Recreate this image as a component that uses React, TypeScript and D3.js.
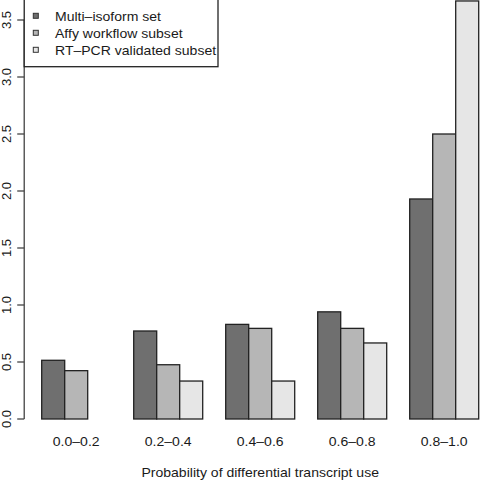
import React from "react";
import * as d3 from "d3";

const categories = ["0.0\u20130.2", "0.2\u20130.4", "0.4\u20130.6", "0.6\u20130.8", "0.8\u20131.0"];
const seriesNames = ["Multi\u2013isoform set", "Affy workflow subset", "RT\u2013PCR validated subset"];
const multiIsoform = [0.515, 0.772, 0.83, 0.94, 1.93];
const affyWorkflow = [0.424, 0.476, 0.795, 0.795, 2.5];
const rtpcrValidated = [0, 0.333, 0.333, 0.667, 3.667];
const yTicks = [0, 0.5, 1, 1.5, 2, 2.5, 3, 3.5];
const xTitle = "Probability of differential transcript use";

const fills = ["#6f6f6f", "#b6b6b6", "#e6e6e6"];
const FONT = "'Liberation Sans', Arial, Helvetica, sans-serif";
const FS = 13;
const SX = 1.08;

export default function App() {
  const W = 480, H = 481;
  const series = [multiIsoform, affyWorkflow, rtpcrValidated];
  // R barplot units: bars of width 1, one-unit gap before each group
  const unit = 23;
  const x0 = 18.7;
  const xs = d3.scaleLinear().domain([0, 1]).range([x0, x0 + unit]);
  const y = d3.scaleLinear().domain([0, 3.5]).range([419, 20]);
  const axisX = xs(0.24);

  const bars: { x: number; w: number; y0: number; y1: number; fill: string; key: string }[] = [];
  categories.forEach((c, gi) => {
    series.forEach((s, si) => {
      const left = 1 + gi * 4 + si;
      bars.push({
        key: `${gi}-${si}`,
        x: xs(left),
        w: xs(left + 1) - xs(left),
        y0: y(0),
        y1: y(s[gi]),
        fill: fills[si],
      });
    });
  });

  const hText = (x: number, yy: number, txt: string, anchor: string, key?: string) => (
    <text
      key={key}
      transform={`translate(${x},${yy}) scale(${SX},1)`}
      textAnchor={anchor}
      fontSize={FS}
      fontFamily={FONT}
      fill="#1a1a1a"
    >
      {txt}
    </text>
  );

  return (
    <svg width={W} height={H} style={{ position: "absolute", left: 0, top: 0, background: "#fff" }}>
      <rect x={0} y={0} width={W} height={H} fill="#fff" />
      {bars.map((b) => (
        <rect
          key={b.key}
          x={b.x}
          y={b.y1}
          width={b.w}
          height={b.y0 - b.y1}
          fill={b.fill}
          stroke="#222"
          strokeWidth={1.3}
        />
      ))}
      {/* y axis */}
      <line x1={axisX} x2={axisX} y1={y(0)} y2={y(3.5)} stroke="#444" strokeWidth={1.3} />
      {yTicks.map((t) => (
        <g key={t}>
          <line x1={axisX - 7} x2={axisX} y1={y(t)} y2={y(t)} stroke="#444" strokeWidth={1.3} />
          <text
            transform={`translate(10.5,${y(t)}) rotate(-90)`}
            textAnchor="middle"
            fontSize={FS}
            fontFamily={FONT}
            fill="#1a1a1a"
          >
            {t.toFixed(1)}
          </text>
        </g>
      ))}
      {/* category labels */}
      {categories.map((c, gi) => hText(xs(2.5 + gi * 4), 446, c, "middle", c))}
      {/* x title */}
      {hText((axisX + xs(20.76)) / 2, 477, xTitle, "middle", "xt")}
      {/* legend */}
      <rect x={axisX} y={-20} width={218 - axisX} height={66.7 + 20} fill="#fff" stroke="#222" strokeWidth={1.3} />
      {seriesNames.map((n, i) => (
        <g key={n}>
          <rect x={33.3} y={13.3 + i * 17} width={5} height={5} fill={fills[i]} stroke="#333" strokeWidth={1} />
          {hText(55, 20.8 + i * 17, n, "start")}
        </g>
      ))}
    </svg>
  );
}
